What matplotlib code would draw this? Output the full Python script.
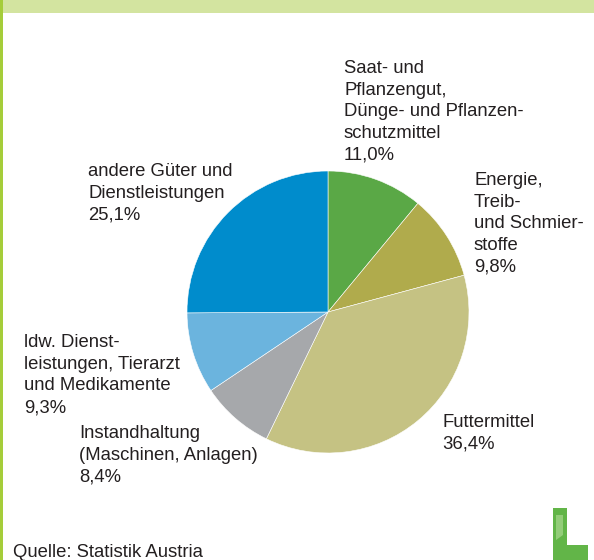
import matplotlib
matplotlib.use('Agg')
import matplotlib.pyplot as plt
from matplotlib.patches import Rectangle, Polygon

W, H = 594, 560

labels = ['Saat- und\nPflanzengut,\nDünge- und Pflanzen-\nschutzmittel\n11,0%',
          'Energie,\nTreib-\nund Schmier-\nstoffe\n9,8%',
          'Futtermittel\n36,4%',
          'Instandhaltung\n(Maschinen, Anlagen)\n8,4%',
          'ldw. Dienst-\nleistungen, Tierarzt\nund Medikamente\n9,3%',
          'andere Güter und\nDienstleistungen\n25,1%']
values = [11.0, 9.8, 36.4, 8.4, 9.3, 25.1]
colors = ['#5aa846', '#b0ab4c', '#c5c283', '#a6a8ab', '#6bb4de', '#008ccc']
# label top-left positions in pixels
label_pos = [(344, 60), (474, 172), (442, 414), (79, 425), (24, 334), (88, 163)]

plt.rcParams['font.family'] = ['Liberation Sans', 'DejaVu Sans']

fig = plt.figure(figsize=(W / 100, H / 100), dpi=100)


def px(x, y):
    return x / W, 1 - y / H


# header band and left border
fig.patches.append(Rectangle((0, 1 - 13 / H), 1, 13 / H, transform=fig.transFigure,
                             facecolor='#d3e4a0', edgecolor='none'))
fig.patches.append(Rectangle((0, 0), 3 / W, 1, transform=fig.transFigure,
                             facecolor='#a5cd3a', edgecolor='none'))

cx, cy, r = 328, 312, 141
ax = fig.add_axes([(cx - r) / W, (H - cy - r) / H, 2 * r / W, 2 * r / H])
ax.pie(values, colors=colors, startangle=90, counterclock=False, radius=1,
       wedgeprops=dict(edgecolor='white', linewidth=0.4))
ax.set_xlim(-1, 1)
ax.set_ylim(-1, 1)
ax.set_aspect('equal')
ax.axis('off')

for lab, (x, y) in zip(labels, label_pos):
    fig.text(*px(x, y), lab, fontsize=13.3, color='#231f20', ha='left', va='top',
             linespacing=1.36)

fig.text(*px(13, 544), 'Quelle: Statistik Austria', fontsize=13.3, color='#231f20',
         ha='left', va='top')

# small logo bottom right
fig.patches.append(Polygon([px(553, 508), px(567, 508), px(567, 545), px(588, 545),
                            px(588, 562), px(553, 562)], closed=True,
                           transform=fig.transFigure, facecolor='#62b548', edgecolor='none'))
fig.patches.append(Polygon([px(556, 515), px(563, 515), px(563, 535), px(556, 540)], closed=True,
                           transform=fig.transFigure, facecolor='#a9d88f', edgecolor='none',
                           alpha=0.7))

fig.savefig('out.png', dpi=100)
